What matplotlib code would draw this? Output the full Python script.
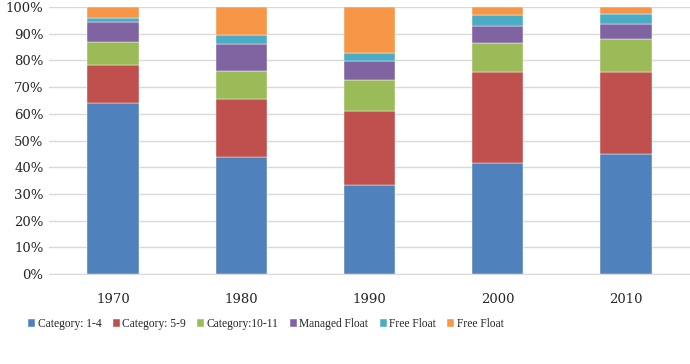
import numpy as np
import matplotlib.pyplot as plt
from matplotlib.ticker import PercentFormatter

# datos (porcentaje de cada categoria por decada)
years = ['1970', '1980', '1990', '2000', '2010']
cat_1_4 = [64.1, 43.7, 33.5, 41.5, 45.1]
cat_5_9 = [14.0, 21.8, 27.5, 34.2, 30.4]
cat_10_11 = [8.9, 10.5, 11.5, 10.9, 12.7]
managed_float = [7.5, 10.2, 7.1, 6.4, 5.4]
free_float_a = [1.3, 3.5, 3.3, 4.1, 3.8]
free_float_b = [4.2, 10.3, 17.1, 2.9, 2.6]

series = [cat_1_4, cat_5_9, cat_10_11, managed_float, free_float_a, free_float_b]
labels = ['Category: 1-4', 'Category: 5-9', 'Category:10-11', 'Managed Float', 'Free Float', 'Free Float']
colors = ['#4F81BD', '#C0504D', '#9BBB59', '#8064A2', '#4BACC6', '#F79646']

plt.rcParams['font.family'] = ['DejaVu Serif']

fig = plt.figure(figsize=(6.9, 3.64), dpi=100)
ax = fig.add_axes([49/690, 1 - 274/364, 1 - 49/690, 267/364])

x = np.arange(len(years))
bottom = np.zeros(len(years))
for vals, lab, col in zip(series, labels, colors):
    ax.bar(x, vals, 0.4, bottom=bottom, color=col, label=lab,
           edgecolor='white', linewidth=0.3, zorder=3)
    bottom += np.array(vals)

ax.set_xlim(-0.5, 4.5)
ax.set_ylim(0, 100)
ax.set_yticks(np.arange(0, 101, 10))
ax.yaxis.set_major_formatter(PercentFormatter(decimals=0))
ax.set_xticks(x)
ax.set_xticklabels(years)
ax.grid(axis='y', color='#D9D9D9', linewidth=1, zorder=0)
for s in ['top', 'right', 'left']:
    ax.spines[s].set_visible(False)
ax.spines['bottom'].set_color('#D9D9D9')
ax.tick_params(axis='both', length=0, labelsize=9.5, colors='#262626')
ax.tick_params(axis='x', pad=14)
ax.tick_params(axis='y', pad=4)

leg = ax.legend(loc='center', bbox_to_anchor=((266 - 49) / 641, -(324 - 274) / 267), ncol=6,
                frameon=False, handlelength=0.6, handleheight=0.6, handletextpad=0.2,
                columnspacing=1.0, labelcolor='#262626',
                prop={'family': 'Liberation Serif', 'size': 8.3})

fig.savefig('out.png', dpi=100)
